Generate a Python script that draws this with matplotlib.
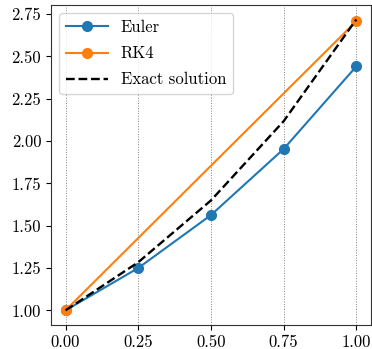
import matplotlib
matplotlib.use("Agg")
import matplotlib.pyplot as plt

plt.rcParams["font.family"] = "serif"
plt.rcParams["font.serif"] = ["cmr10"]
plt.rcParams["mathtext.fontset"] = "cm"
plt.rcParams["axes.formatter.use_mathtext"] = True
plt.rcParams["font.size"] = 12

# Euler med h = 0.25
x_euler = [0.0, 0.25, 0.5, 0.75, 1.0]
y_euler = [1.0, 1.25, 1.5625, 1.953, 2.441]

# RK4 med h = 1
x_rk4 = [0.0, 1.0]
y_rk4 = [1.0, 2.708]

# eksakt losning i samme punkter
x_exact = [0.0, 0.25, 0.5, 0.75, 1.0]
y_exact = [1.0, 1.284, 1.649, 2.117, 2.718]

fig, ax = plt.subplots(figsize=(3.72, 3.49), dpi=100)
fig.subplots_adjust(left=0.137, right=0.997, top=0.986, bottom=0.069)

ax.plot(x_euler, y_euler, "o-", color="C0", label="Euler", markersize=7)
ax.plot(x_rk4, y_rk4, "o-", color="C1", label="RK4", markersize=7)
ax.plot(x_exact, y_exact, "--", color="black", label="Exact solution", linewidth=1.7)

ax.set_xticks([0.0, 0.25, 0.5, 0.75, 1.0])
ax.set_xticklabels(["0.00", "0.25", "0.50", "0.75", "1.00"])
ax.set_yticks([1.0, 1.25, 1.5, 1.75, 2.0, 2.25, 2.5, 2.75])
ax.set_yticklabels(["1.00", "1.25", "1.50", "1.75", "2.00", "2.25", "2.50", "2.75"])
ax.grid(axis="x", linestyle=":", color="gray", linewidth=0.7)
for s in ax.spines.values():
    s.set_color("#333333")

ax.legend(loc="upper left", handlelength=2.5, labelspacing=0.65)

plt.savefig("out.png")
